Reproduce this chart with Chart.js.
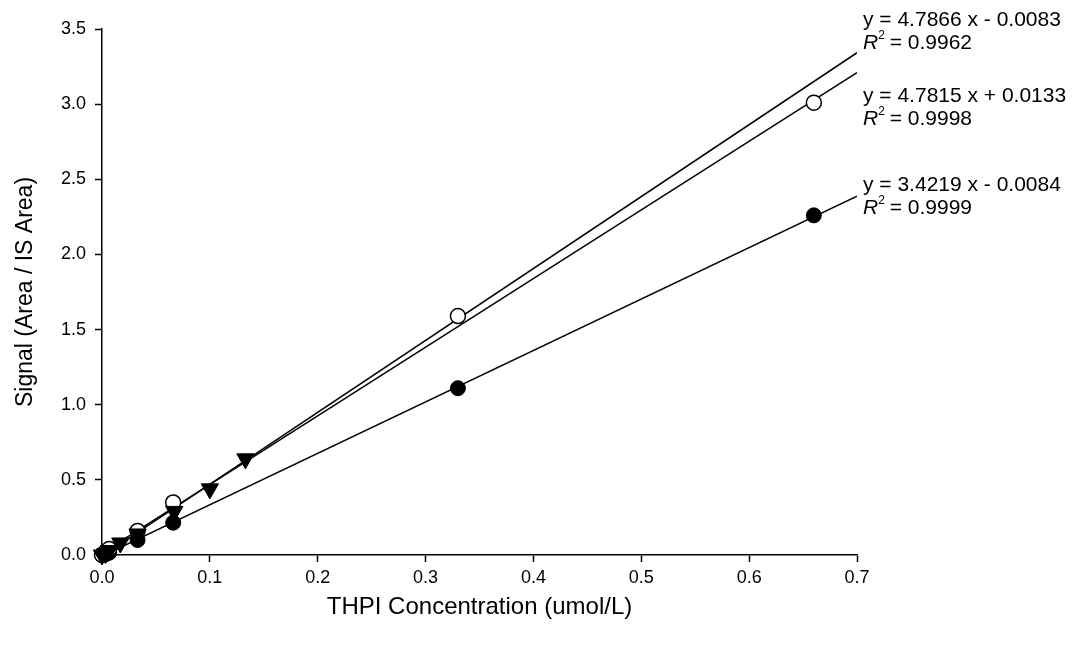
<!DOCTYPE html>
<html lang="en">
<head>
    <meta charset="UTF-8">
    <title>THPI Calibration Curves</title>
    <script src="https://cdn.jsdelivr.net/npm/chart.js"></script>
    <style>
        body { margin: 0; background: #fff; }
    </style>
</head>
<body>
    <canvas id="myChart" width="1074" height="649"></canvas>
    <script>
        // Concentrations (umol/L)
        const circleX = [0, 0.0033, 0.0066, 0.033, 0.066, 0.33, 0.66];
        const triangleX = [0, 0.0033, 0.0067, 0.017, 0.033, 0.067, 0.1, 0.133];

        // Signal (Area / IS Area)
        const openCircleY = [0, 0.02, 0.04, 0.16, 0.35, 1.59, 3.01];
        const filledCircleY = [0, 0.005, 0.015, 0.10, 0.215, 1.11, 2.26];
        const triangleY = [0, 0.01, 0.03, 0.08, 0.14, 0.29, 0.44, 0.64];

        // Regression lines, read at both ends of the x axis
        const fitX = [0, 0.7];
        const fitTriangle = [-0.008, 3.342];
        const fitOpen = [0.013, 3.209];
        const fitFilled = [-0.008, 2.387];

        const xTicks = [0, 0.1, 0.2, 0.3, 0.4, 0.5, 0.6, 0.7];
        const yTicks = [0, 0.5, 1.0, 1.5, 2.0, 2.5, 3.0, 3.5];

        const fitEquations = ["y = 4.7866 x - 0.0083", "y = 4.7815 x + 0.0133", "y = 3.4219 x - 0.0084"];
        const fitR2 = ["0.9962", "0.9998", "0.9999"];

        const FONT = '"Liberation Sans", Arial, sans-serif';
        const toPoints = (xs, ys) => xs.map((x, i) => ({ x: x, y: ys[i] }));

        // Equation labels next to the line ends
        const fitLabelPlugin = {
            id: "fitLabels",
            afterDatasetsDraw(chart) {
                const { ctx, scales: { x, y } } = chart;
                const ends = [fitTriangle[1], fitOpen[1], fitFilled[1]];
                const shifts = [-21, 34.5, 0.5];
                ctx.save();
                ctx.fillStyle = "#000";
                ctx.textBaseline = "middle";
                ctx.textAlign = "left";
                fitEquations.forEach((eq, i) => {
                    const px = x.getPixelForValue(fitX[1]) + 6;
                    const py = y.getPixelForValue(ends[i]) + shifts[i];
                    ctx.font = "21px " + FONT;
                    ctx.fillText(eq, px, py - 11.5);
                    ctx.font = "italic 21px " + FONT;
                    ctx.fillText("R", px, py + 11.5);
                    let cx = px + ctx.measureText("R").width;
                    ctx.font = "12px " + FONT;
                    ctx.fillText("2", cx, py + 4);
                    cx += ctx.measureText("2").width;
                    ctx.font = "21px " + FONT;
                    ctx.fillText(" = " + fitR2[i], cx - 1, py + 11.5);
                });
                ctx.restore();
            }
        };

        const lineSet = (ys) => ({
            data: toPoints(fitX, ys),
            showLine: true,
            borderColor: "#000",
            borderWidth: 1.5,
            pointRadius: 0,
            order: 10
        });

        const ctx = document.getElementById("myChart").getContext("2d");
        new Chart(ctx, {
            type: "scatter",
            data: {
                datasets: [
                    lineSet(fitTriangle),
                    lineSet(fitOpen),
                    lineSet(fitFilled),
                    {
                        label: "Filled circles",
                        data: toPoints(circleX, filledCircleY),
                        pointStyle: "circle",
                        pointRadius: 7.5,
                        backgroundColor: "#000",
                        borderColor: "#000",
                        borderWidth: 1,
                        clip: false,
                        order: 3
                    },
                    {
                        label: "Open circles",
                        data: toPoints(circleX, openCircleY),
                        pointStyle: "circle",
                        pointRadius: 7.5,
                        backgroundColor: "#fff",
                        borderColor: "#000",
                        borderWidth: 1.5,
                        clip: false,
                        order: 2
                    },
                    {
                        label: "Triangles",
                        data: toPoints(triangleX, triangleY),
                        pointStyle: "triangle",
                        rotation: 180,
                        pointRadius: 10,
                        backgroundColor: "#000",
                        borderColor: "#000",
                        borderWidth: 1,
                        clip: false,
                        order: 1
                    }
                ]
            },
            options: {
                responsive: false,
                animation: false,
                layout: { padding: { left: 0, top: 29, right: 217, bottom: 0 } },
                plugins: {
                    legend: { display: false },
                    tooltip: { enabled: false }
                },
                scales: {
                    x: {
                        type: "linear",
                        min: 0,
                        max: 0.7,
                        afterBuildTicks: s => { s.ticks = xTicks.map(v => ({ value: v })); },
                        afterFit: s => { s.height = 94; },
                        ticks: {
                            color: "#000",
                            font: { family: FONT, size: 18 },
                            padding: 5,
                            maxRotation: 0,
                            callback: v => v.toFixed(1)
                        },
                        grid: { drawOnChartArea: false, tickLength: 7, tickColor: "#000", tickWidth: 1.5 },
                        border: { color: "#000", width: 1.5 },
                        title: {
                            display: true,
                            text: "THPI Concentration (umol/L)",
                            color: "#000",
                            font: { family: FONT, size: 24 },
                            padding: { top: 0, bottom: 27 }
                        }
                    },
                    y: {
                        type: "linear",
                        min: 0,
                        max: 3.5,
                        afterBuildTicks: s => { s.ticks = yTicks.map(v => ({ value: v })); },
                        afterFit: s => { s.width = 102; },
                        ticks: {
                            color: "#000",
                            font: { family: FONT, size: 18 },
                            padding: 9,
                            callback: v => v.toFixed(1)
                        },
                        grid: { drawOnChartArea: false, tickLength: 7, tickColor: "#000", tickWidth: 1.5 },
                        border: { color: "#000", width: 1.5 },
                        title: {
                            display: true,
                            text: "Signal (Area / IS Area)",
                            color: "#000",
                            font: { family: FONT, size: 23 },
                            padding: { top: 12, bottom: 0 }
                        }
                    }
                }
            },
            plugins: [fitLabelPlugin]
        });
    </script>
</body>
</html>
